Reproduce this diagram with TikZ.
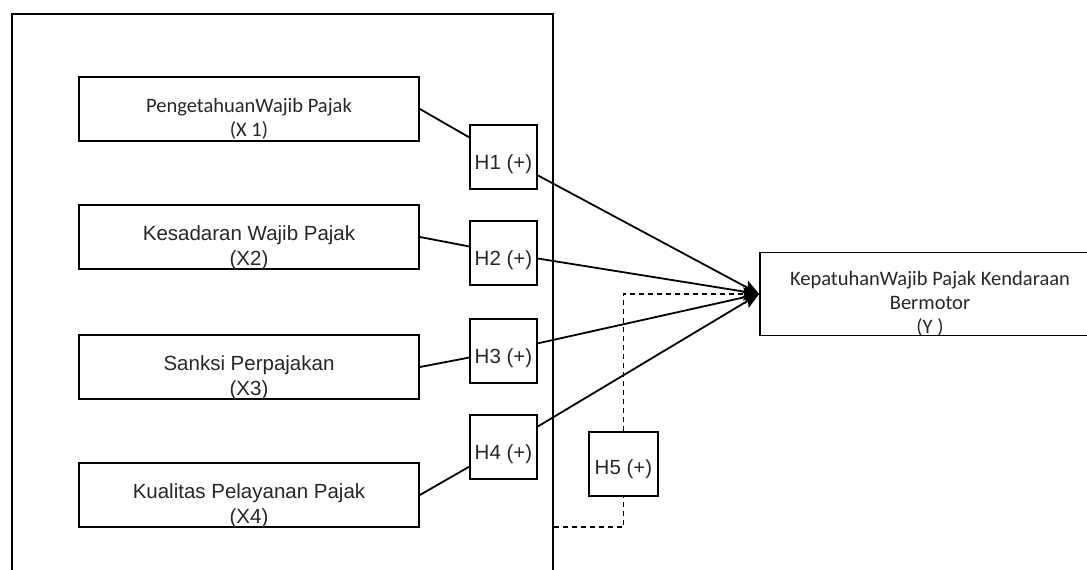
\documentclass[tikz,border=0pt]{standalone}
\usepackage{fontspec}
\newfontfamily\arialf{Liberation Sans}
\newfontfamily\calibf{Carlito}
\usetikzlibrary{arrows.meta}
\begin{document}
\begin{tikzpicture}[x=1pt, y=-1pt, line width=1.8pt,
  varbox/.style={draw, minimum width=340pt, minimum height=64pt, inner sep=0pt},
  hypbox/.style={draw, minimum width=67pt, minimum height=64pt, inner sep=0pt},
  artext/.style={font=\arialf\fontsize{20.5}{25}\selectfont, align=center, yshift=-10.5pt, text=black!85},
  catext/.style={font=\calibf\fontsize{20.5}{24}\selectfont, align=center, yshift=-10pt, text=black!85},
  htext/.style={font=\arialf\fontsize{20.5}{25}\selectfont, yshift=-7pt, text=black!85},
  arr/.style={-{Stealth[length=16pt, width=13pt, inset=3pt]}}]
\useasboundingbox (0,0) rectangle (1087,570);
\node[draw, minimum width=541pt, minimum height=600pt, inner sep=0pt, anchor=north west] (frame) at (11,13){};
\node[varbox, label={[catext]center:PengetahuanWajib Pajak\\(X 1)}] (x1) at (249,109){};
\node[varbox, label={[artext]center:Kesadaran Wajib Pajak\\(X2)}] (x2) at (249,237){};
\node[varbox, label={[artext]center:Sanksi Perpajakan\\(X3)}] (x3) at (249,367){};
\node[varbox, label={[artext]center:Kualitas Pelayanan Pajak\\(X4)}] (x4) at (249,495){};
\node[hypbox, label={[htext]center:H1 (+)}] (h1) at (503.5,157){};
\node[hypbox, label={[htext]center:H2 (+)}] (h2) at (503.5,253){};
\node[hypbox, label={[htext]center:H3 (+)}] (h3) at (503.5,351){};
\node[hypbox, label={[htext]center:H4 (+)}] (h4) at (503.5,447){};
\node[hypbox, minimum width=69pt, label={[htext, yshift=2pt]center:H5 (+)}] (h5) at (623.5,464){};
\node[varbox, minimum height=83pt, label={[catext]center:KepatuhanWajib Pajak Kendaraan\\Bermotor\\(Y )}] (y0) at (930,294){};
\draw[](x1.east) -- (h1);
\draw[](x2.east) -- (h2);
\draw[](x3.east) -- (h3);
\draw[](x4.east) -- (h4);
\draw[arr](h1) -- (y0.west);
\draw[arr](h2) -- (y0.west);
\draw[arr](h3) -- (y0.west);
\draw[arr](h4) -- (y0.west);
% dashed path through H5
\coordinate (h5in) at (frame.east |- 0,527);
\draw[dash pattern=on 5pt off 4pt, line width=1.4pt](h5in) -| (h5.south);
\draw[dash pattern=on 5pt off 4pt, line width=1.4pt, arr](h5.north) |- (y0.west);
\end{tikzpicture}
\end{document}
